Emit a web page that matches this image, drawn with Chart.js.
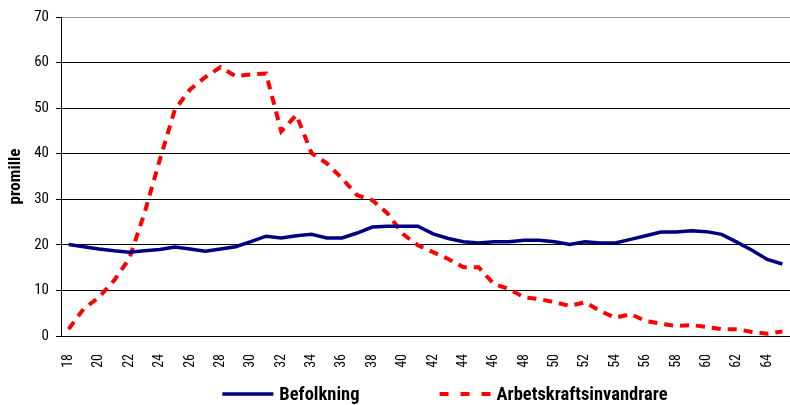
<!DOCTYPE html>
<html lang="sv">
<head>
    <meta charset="UTF-8" />
    <title>Befolkning och arbetskraftsinvandrare per ålder</title>
    <script src="https://cdn.jsdelivr.net/npm/chart.js"></script>
    <style>
        html, body { margin: 0; padding: 0; background: #fff; }
        #wrap { width: 790px; height: 405px; position: relative; }
    </style>
</head>
<body>
<div id="wrap">
    <canvas id="ageChart"></canvas>
</div>

<script>
    // Data (promille per age)
    const ages = [18, 19, 20, 21, 22, 23, 24, 25, 26, 27, 28, 29, 30, 31, 32, 33,
        34, 35, 36, 37, 38, 39, 40, 41, 42, 43, 44, 45, 46, 47, 48, 49,
        50, 51, 52, 53, 54, 55, 56, 57, 58, 59, 60, 61, 62, 63, 64, 65];

    const befolkning = [20.1, 19.6, 19.1, 18.7, 18.4, 18.7, 19.0, 19.5, 19.1, 18.6, 19.1, 19.6, 20.7, 21.9, 21.5, 22.0,
        22.3, 21.5, 21.5, 22.6, 23.9, 24.1, 24.1, 24.1, 22.4, 21.4, 20.7, 20.4, 20.7, 20.7, 21.0, 21.0,
        20.7, 20.1, 20.7, 20.4, 20.4, 21.2, 22.0, 22.8, 22.8, 23.1, 22.9, 22.3, 20.6, 18.8, 16.8, 15.8];

    const arbetskraftsinvandrare = [1.5, 6.0, 8.5, 12.2, 17.0, 27.0, 38.6, 49.7, 54.1, 56.8, 59.0, 57.0, 57.4, 57.6, 44.9, 48.5,
        40.1, 37.9, 34.6, 30.9, 29.8, 26.9, 22.4, 19.9, 18.4, 16.9, 15.1, 15.1, 11.4, 10.3, 8.5, 8.1,
        7.4, 6.6, 7.4, 5.5, 4.0, 4.8, 3.3, 2.7, 2.2, 2.4, 2.0, 1.5, 1.5, 0.9, 0.5, 1.0];

    const yTicks = [0, 10, 20, 30, 40, 50, 60, 70];

    const condensed = "'Roboto Condensed', 'Liberation Sans Narrow', sans-serif";

    // legend drawn by hand so the spacing and line samples match the original
    const bottomLegend = {
        id: "bottomLegend",
        afterDraw(chart) {
            const c = chart.ctx;
            const y = 394;
            const sample = 51;
            const textGap = 6;
            const itemGap = 80;
            c.save();
            c.font = "bold 18.5px " + condensed;
            c.textBaseline = "middle";
            c.textAlign = "left";
            const items = chart.data.datasets.map(ds => ({
                text: ds.label,
                color: ds.borderColor,
                width: ds.borderWidth,
                dash: ds.legendDash || [],
                tw: c.measureText(ds.label).width,
            }));
            let total = 0;
            items.forEach((it, i) => {
                total += sample + textGap + it.tw + (i ? itemGap : 0);
            });
            let x = 445 - total / 2;
            items.forEach(it => {
                c.beginPath();
                c.strokeStyle = it.color;
                c.lineWidth = it.width;
                c.setLineDash(it.dash);
                c.moveTo(x, y);
                c.lineTo(x + sample, y);
                c.stroke();
                c.setLineDash([]);
                c.fillStyle = "#000";
                c.fillText(it.text, x + sample + textGap, y + 1);
                x += sample + textGap + it.tw + itemGap;
            });
            c.restore();
        },
    };

    const ctx = document.getElementById("ageChart").getContext("2d");
    new Chart(ctx, {
        type: "line",
        data: {
            labels: ages,
            datasets: [
                {
                    label: "Befolkning",
                    data: befolkning,
                    borderColor: "#000080",
                    backgroundColor: "#000080",
                    borderWidth: 3.5,
                    pointRadius: 0,
                    tension: 0,
                },
                {
                    label: "Arbetskraftsinvandrare",
                    data: arbetskraftsinvandrare,
                    borderColor: "#ff0000",
                    backgroundColor: "#ff0000",
                    borderWidth: 4,
                    borderDash: [9, 7],
                    legendDash: [9, 12],
                    pointRadius: 0,
                    tension: 0,
                },
            ],
        },
        options: {
            responsive: true,
            maintainAspectRatio: false,
            animation: false,
            layout: { padding: { top: 17, right: 0, left: 0, bottom: 0 } },
            plugins: {
                tooltip: { enabled: false },
                legend: { display: false },
            },
            scales: {
                x: {
                    offset: true,
                    grid: { display: false },
                    border: { display: true, color: "#000", width: 1 },
                    afterFit: function (s) {
                        s.height = 69;
                        s.paddingLeft = 0;
                        s.paddingRight = 0;
                    },
                    ticks: {
                        autoSkip: false,
                        minRotation: 90,
                        maxRotation: 90,
                        color: "#000",
                        padding: 10,
                        font: { family: condensed, size: 14 },
                        callback: function (value, index) {
                            const age = ages[index];
                            return age % 2 === 0 ? String(age) : "";
                        },
                    },
                },
                y: {
                    min: 0,
                    max: 70,
                    afterBuildTicks: function (axis) {
                        axis.ticks = yTicks.map(v => ({ value: v }));
                    },
                    afterFit: function (s) {
                        s.width = 61;
                    },
                    grid: {
                        color: function (c) {
                            return c.tick && c.tick.value === 70 ? "#999" : "#000";
                        },
                        tickColor: "#000",
                        lineWidth: 1,
                        tickLength: 5,
                    },
                    border: { display: true, color: "#000", width: 1 },
                    ticks: {
                        color: "#000",
                        padding: 7,
                        font: { family: condensed, size: 15 },
                    },
                    title: {
                        display: true,
                        text: "promille",
                        color: "#000",
                        padding: { top: 6, bottom: 0 },
                        font: { family: condensed, size: 17, weight: "bold" },
                    },
                },
            },
        },
        plugins: [bottomLegend],
    });
</script>
</body>
</html>
